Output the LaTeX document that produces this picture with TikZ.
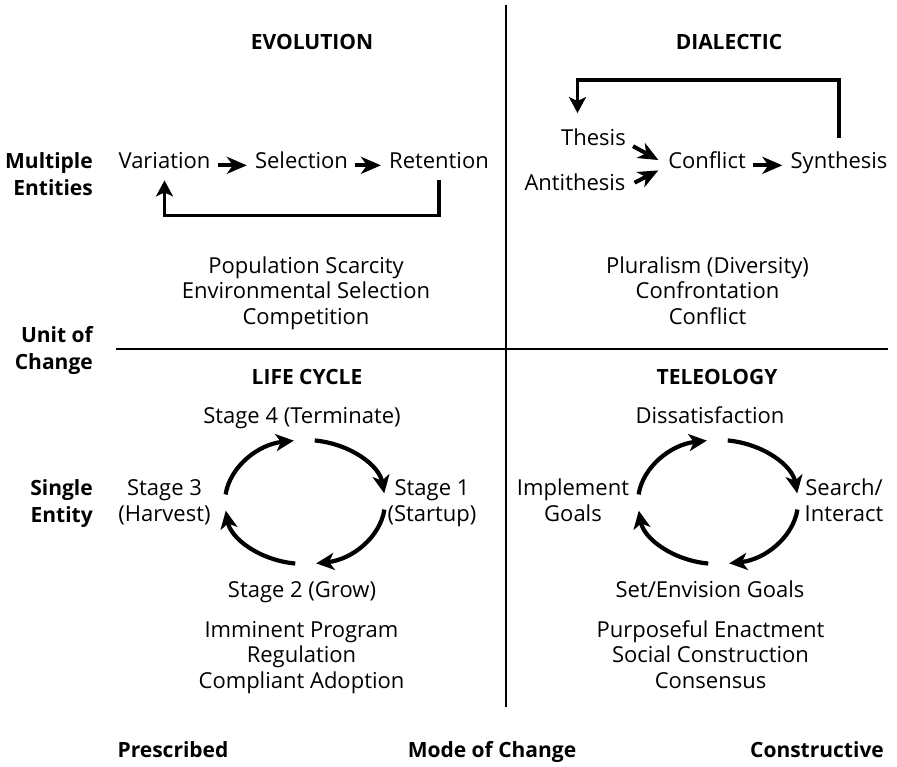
\documentclass[tikz,border=0pt]{standalone}
\usepackage{fontspec}
\setmainfont{Open Sans}
\usetikzlibrary{arrows.meta,positioning,calc}

\begin{document}
\begin{tikzpicture}[x=1pt,y=-1pt,
  every node/.style={font=\fontsize{22}{25.5}\selectfont,align=center,inner sep=0pt},
  txt/.style={anchor=base},
  head/.style={anchor=base,font=\fontsize{21}{26.5}\selectfont\bfseries},
  divider/.style={line width=2.4pt},
  flow/.style={-{Stealth[length=20pt,width=17pt,inset=6pt]},line width=4pt,shorten <=7pt,shorten >=8pt},
  back/.style={-{Stealth[length=16pt,width=17pt,inset=4pt]},line width=3.4pt},
  cyc/.style={-{Stealth[length=18pt,width=17pt,inset=5pt]},line width=4.2pt}]
\useasboundingbox (0,0) rectangle (897,766);
% quadrant frame
\draw[divider] (506,5) -- (506,707);
\draw[divider] (116,349) -- (888,349);
% headings and axes
\node[head] (evo) at (312,49.5) {EVOLUTION};
\node[head] (dia) at (729,49.5) {DIALECTIC};
\node[head] (life) at (307,384) {LIFE CYCLE};
\node[head] (tel) at (717,384) {TELEOLOGY};
\node[head,anchor=base east,align=right] (multi) at (93,195) {Multiple\\Entities};
\node[head,anchor=base east,align=right] (unit) at (93,369) {Unit of\\Change};
\node[head,anchor=base east,align=right] (single) at (93,522) {Single\\Entity};
\node[head] (presc) at (173,757) {Prescribed};
\node[head] (mode) at (492,757) {Mode of Change};
\node[head] (constr) at (817,757) {Constructive};
% evolution
\node[txt] (var) at (164.5,168) {Variation};
\node[txt] (sel) at (301.5,168) {Selection};
\node[txt] (ret) at (439,168) {Retention};
\node[txt] (evotx) at (306,324) {Population Scarcity\\Environmental Selection\\Competition};
\draw[flow] (var.mid east) -- (sel.mid west);
\draw[flow] (sel.mid east) -- (ret.mid west);
\draw[back,shorten <=12pt,shorten >=12pt] (ret.south) -- ++(0,47) -| (var.south);
% dialectic
\node[txt] (the) at (593.5,145) {Thesis};
\node[txt] (anti) at (575,190) {Antithesis};
\node[txt] (conf) at (707,168) {Conflict};
\node[txt] (syn) at (839,168) {Synthesis};
\node[txt] (diatx) at (707.5,324) {Pluralism (Diversity)\\Confrontation\\Conflict};
\draw[flow,shorten <=8pt,shorten >=11pt] (the.mid east) -- (conf.mid west);
\draw[flow,shorten <=10pt,shorten >=11pt] (anti.mid east) -- (conf.mid west);
\draw[flow] (conf.mid east) -- (syn.mid west);
\draw[back,shorten <=13pt,shorten >=15pt] (syn.north) -- ++(0,-71) -| ([xshift=-16pt]the.north);
% life cycle
\node[txt] (s4) at (302,423) {Stage 4 (Terminate)};
\node[txt] (s1) at (432,521) {Stage 1\\(Startup)};
\node[txt] (s2) at (302,597) {Stage 2 (Grow)};
\node[txt] (s3) at (164.5,521) {Stage 3\\(Harvest)};
\node[txt] (lifetx) at (301.5,688) {Imminent Program\\Regulation\\Compliant Adoption};
\coordinate (lc) at (305,502);
\foreach \a in {97,187,277,367}
  \draw[cyc] ([shift={(\a:80 and 62)}]lc) arc[start angle=\a,end angle=\a+75,x radius=80,y radius=62];
% teleology
\node[txt] (dis) at (710,423) {Dissatisfaction};
\node[txt] (srch) at (844,521) {Search/\\Interact};
\node[txt] (goal) at (710,597) {Set/Envision Goals};
\node[txt] (impl) at (573,521) {Implement\\Goals};
\node[txt] (teltx) at (710.5,688) {Purposeful Enactment\\Social Construction\\Consensus};
\coordinate (tc) at (718,502);
\foreach \a in {97,187,277,367}
  \draw[cyc] ([shift={(\a:80 and 62)}]tc) arc[start angle=\a,end angle=\a+75,x radius=80,y radius=62];
\end{tikzpicture}
\end{document}
